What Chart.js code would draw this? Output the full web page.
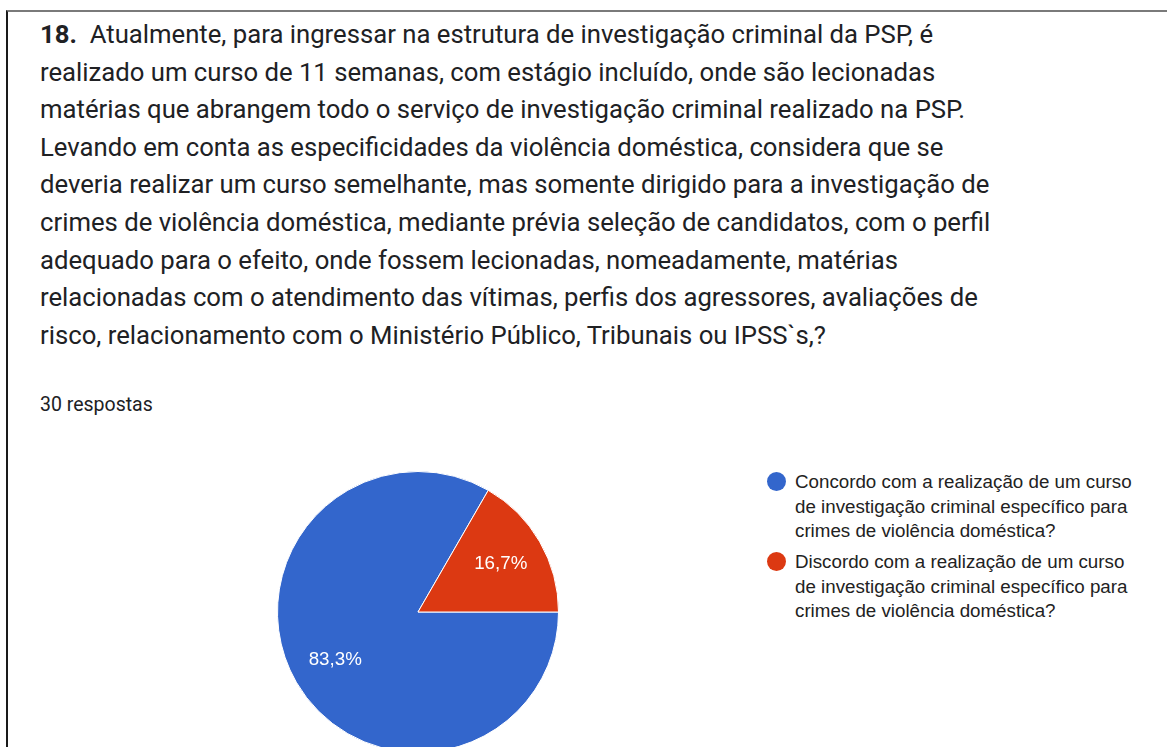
<!DOCTYPE html>
<html>
<head>
<meta charset="utf-8">
<script src="https://cdn.jsdelivr.net/npm/chart.js@4"></script>
<style>
  html, body { margin: 0; padding: 0; background: #fff; width: 1167px; height: 747px; overflow: hidden; }
  #card { position: absolute; left: 6px; top: 10px; width: 1170px; height: 760px;
          border-top: 2px solid #7a7a7a; border-left: 2px solid #1a1a1a; }
  #question { position: absolute; left: 40px; top: 16px; font-family: Roboto, sans-serif;
              font-size: 25.7px; line-height: 37.6px; color: #202124; white-space: nowrap; }
  #question b { font-weight: 700; }
  #count { position: absolute; left: 40px; top: 393px; font-family: Roboto, sans-serif;
           font-size: 19.5px; color: #202124; }
  #pie { position: absolute; left: 270px; top: 464px; }
  #legend { position: absolute; left: 767px; top: 470px; width: 380px;
            font-family: "Liberation Sans", Arial, sans-serif; font-size: 18.75px;
            line-height: 24.5px; color: #222; }
  .item { position: relative; padding-left: 28px; margin-bottom: 6.5px; }
  .dot { position: absolute; left: 0; top: 1.5px; width: 19px; height: 19px; border-radius: 50%; }
</style>
</head>
<body>
<div id="card"></div>
<div id="question"><b>18.</b>&nbsp; Atualmente, para ingressar na estrutura de investigação criminal da PSP, é<br>
realizado um curso de 11 semanas, com estágio incluído, onde são lecionadas<br>
matérias que abrangem todo o serviço de investigação criminal realizado na PSP.<br>
Levando em conta as especificidades da violência doméstica, considera que se<br>
deveria realizar um curso semelhante, mas somente dirigido para a investigação de<br>
crimes de violência doméstica, mediante prévia seleção de candidatos, com o perfil<br>
adequado para o efeito, onde fossem lecionadas, nomeadamente, matérias<br>
relacionadas com o atendimento das vítimas, perfis dos agressores, avaliações de<br>
risco, relacionamento com o Ministério Público, Tribunais ou IPSS`s,?</div>
<div id="count">30 respostas</div>
<canvas id="pie" width="296" height="296"></canvas>
<div id="legend"></div>
<script>
const answers = [
  'Concordo com a realização de um curso de investigação criminal específico para crimes de violência doméstica?',
  'Discordo com a realização de um curso de investigação criminal específico para crimes de violência doméstica?'
];
const responses = [25, 5];
const sliceColors = ['#3366cc', '#dc3912'];

// percentages inside slices, like google forms does
const sliceLabels = {
  id: 'sliceLabels',
  afterDatasetsDraw(chart) {
    const ctx = chart.ctx;
    const total = responses.reduce((a, b) => a + b, 0);
    chart.getDatasetMeta(0).data.forEach((arc, i) => {
      const mid = (arc.startAngle + arc.endAngle) / 2;
      const r = arc.outerRadius * 0.68;
      const x = arc.x + Math.cos(mid) * r;
      const y = arc.y + Math.sin(mid) * r;
      const pct = (responses[i] / total * 100).toFixed(1).replace('.', ',') + '%';
      ctx.save();
      ctx.fillStyle = '#fff';
      ctx.font = '18.75px "Liberation Sans", Arial, sans-serif';
      ctx.textAlign = 'center';
      ctx.textBaseline = 'middle';
      ctx.fillText(pct, x, y);
      ctx.restore();
    });
  }
};

new Chart(document.getElementById('pie').getContext('2d'), {
  type: 'pie',
  data: {
    labels: answers,
    datasets: [{
      data: responses,
      backgroundColor: sliceColors,
      borderColor: '#fff',
      borderWidth: 1
    }]
  },
  options: {
    responsive: false,
    animation: false,
    rotation: 90,
    layout: { padding: 7 },
    plugins: {
      legend: { display: false },
      tooltip: { enabled: false }
    }
  },
  plugins: [sliceLabels]
});

const legend = document.getElementById('legend');
answers.forEach((text, i) => {
  const item = document.createElement('div');
  item.className = 'item';
  item.innerHTML = '<span class="dot" style="background:' + sliceColors[i] + '"></span>' + text;
  legend.appendChild(item);
});
</script>
</body>
</html>
